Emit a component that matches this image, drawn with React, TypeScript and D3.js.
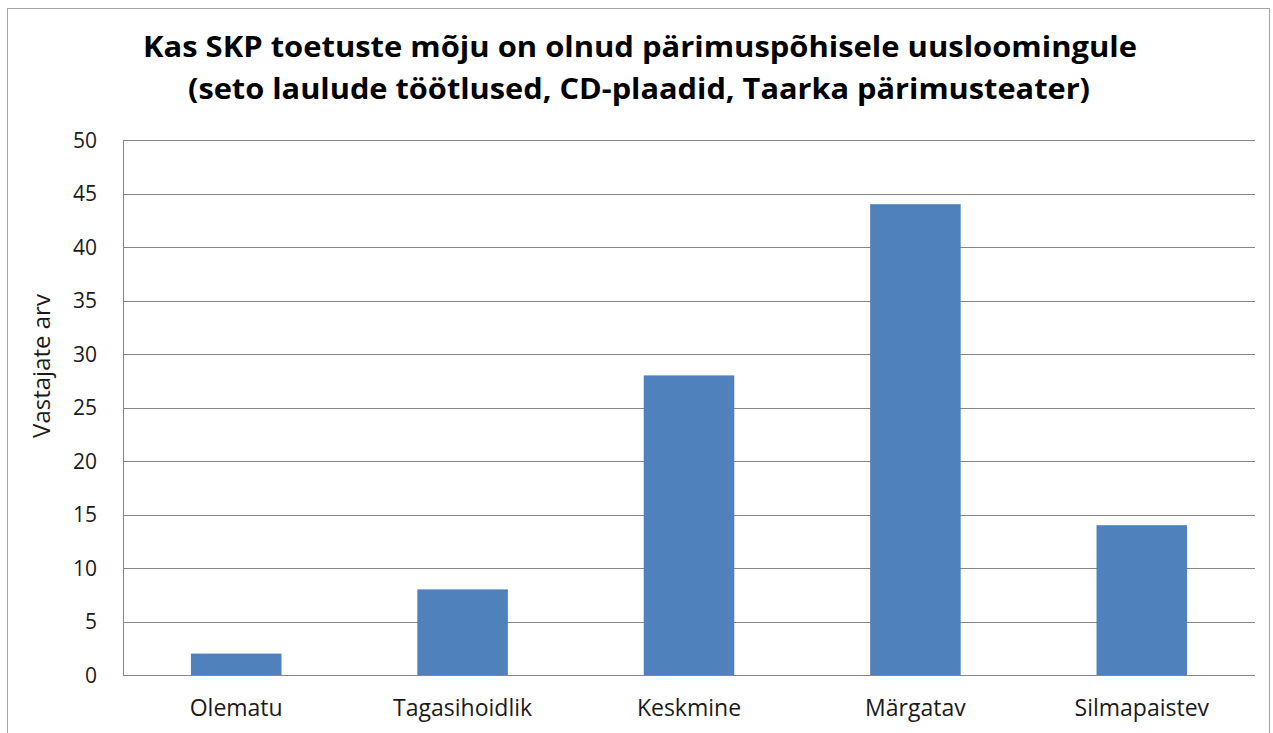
import React from "react";
import * as d3 from "d3";

const categories = ["Olematu", "Tagasihoidlik", "Keskmine", "Märgatav", "Silmapaistev"];
const values = [2, 8, 28, 44, 14];
const yTicks = [0, 5, 10, 15, 20, 25, 30, 35, 40, 45, 50];
const titleLines = [
  "Kas SKP toetuste mõju on olnud pärimuspõhisele uusloomingule",
  "(seto laulude töötlused, CD-plaadid, Taarka pärimusteater)",
];
const yLabel = "Vastajate arv";

export default function App() {
  const W = 1273, H = 733;
  const left = 123, right = 1255, top = 140, bottom = 675;
  const x = d3.scaleBand<string>().domain(categories).range([left, right]).padding(0);
  const y = d3.scaleLinear().domain([0, 50]).range([bottom, top]);
  const bw = x.bandwidth() * 0.4;
  const font = "'Open Sans', 'DejaVu Sans', sans-serif";
  return (
    <svg width={W} height={H} style={{ position: "absolute", left: 0, top: 0, background: "#fff" }} fontFamily={font}>
      <rect x={7.5} y={8.5} width={1262} height={740} fill="#fff" stroke="#a6a6a6" strokeWidth={1} />
      <text x={640} y={57} textAnchor="middle" fontWeight="bold" fontSize={28} textLength={994} lengthAdjust="spacingAndGlyphs" fill="#000">{titleLines[0]}</text>
      <text x={639} y={99} textAnchor="middle" fontWeight="bold" fontSize={28} textLength={902} lengthAdjust="spacingAndGlyphs" fill="#000">{titleLines[1]}</text>
      {yTicks.map((t) => (
        <g key={t}>
          <line x1={left} x2={right} y1={Math.round(y(t)) + 0.5} y2={Math.round(y(t)) + 0.5} stroke="#868686" strokeWidth={1} />
          <text x={97} y={y(t) + 7.5} textAnchor="end" fontSize={21} fill="#1a1a1a">{t}</text>
        </g>
      ))}
      <line x1={left + 0.5} x2={left + 0.5} y1={top} y2={bottom} stroke="#868686" strokeWidth={1} />
      {categories.map((c, i) => (
        <g key={c}>
          <rect x={(x(c) as number) + x.bandwidth() / 2 - bw / 2} y={y(values[i])} width={bw} height={y(0) - y(values[i])} fill="#4f81bd" />
          <text x={(x(c) as number) + x.bandwidth() / 2} y={716} textAnchor="middle" fontSize={23} fill="#1a1a1a">{c}</text>
        </g>
      ))}
      <text transform={`translate(50, 366) rotate(-90)`} textAnchor="middle" fontSize={24} fill="#1a1a1a">{yLabel}</text>
    </svg>
  );
}
